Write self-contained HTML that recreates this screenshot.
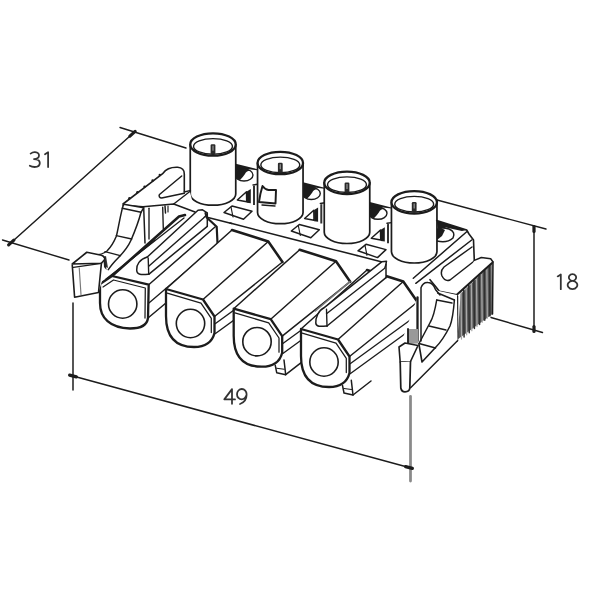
<!DOCTYPE html>
<html><head><meta charset="utf-8"><style>
html,body{margin:0;padding:0;background:#fff;width:600px;height:600px;overflow:hidden}
svg{display:block;filter:blur(0.3px)}
</style></head><body>
<svg width="600" height="600" viewBox="0 0 600 600" stroke-linecap="round" stroke-linejoin="round">
<path d="M120.00,127.50 L186.00,148.00" fill="none" stroke="#1c1c1c" stroke-width="1.38" />
<path d="M2.50,240.00 L69.00,260.00" fill="none" stroke="#1c1c1c" stroke-width="1.38" />
<path d="M11.25,242.50 L132.50,133.75" fill="none" stroke="#1c1c1c" stroke-width="1.49" />
<path d="M73.00,303.00 L73.00,390.00" fill="none" stroke="#1c1c1c" stroke-width="1.49" />
<path d="M410.50,396.50 L410.50,481.00" fill="none" stroke="#8a8a8a" stroke-width="2.76" />
<path d="M73.00,376.00 L409.00,467.50" fill="none" stroke="#1c1c1c" stroke-width="1.49" />
<path d="M437.00,200.00 L546.00,229.00" fill="none" stroke="#1c1c1c" stroke-width="1.38" />
<path d="M534.00,229.00 L534.00,329.00" fill="none" stroke="#1c1c1c" stroke-width="1.49" />
<path d="M491.00,317.50 L542.50,332.50" fill="none" stroke="#1c1c1c" stroke-width="1.38" />
<path d="M8.65,244.84 L13.85,240.16" fill="none" stroke="#1c1c1c" stroke-width="3.22" />
<path d="M129.90,136.09 L135.10,131.41" fill="none" stroke="#1c1c1c" stroke-width="3.22" />
<path d="M69.62,375.08 L76.38,376.92" fill="none" stroke="#1c1c1c" stroke-width="3.22" />
<path d="M405.62,466.58 L412.38,468.42" fill="none" stroke="#1c1c1c" stroke-width="3.22" />
<path d="M534.00,226.50 L534.00,231.50" fill="none" stroke="#1c1c1c" stroke-width="3.22" />
<path d="M534.00,326.50 L534.00,331.50" fill="none" stroke="#1c1c1c" stroke-width="3.22" />
<path d="M30.6,153.6 Q32.8,152 35.0,152.2 Q39.2,152.6 39.0,155.8 Q38.8,159 34.0,159.1 Q39.8,159.3 39.8,163 Q39.8,167 34.6,167 Q31.8,167 29.8,165.8 M45.0,154.2 L48.099999999999994,152.3 L48.099999999999994,167" fill="none" stroke="#333333" stroke-width="1.78" />
<path d="M232,403.8 L232,389.1 L224.3,399.40000000000003 L235,399.40000000000003 M246.6,394.3 A4.8,5.2 0 1 0 241.8,399.40000000000003 Q245,399.3 246.6,394.8 Q246.5,401.8 240,404.0" fill="none" stroke="#333333" stroke-width="1.78" />
<path d="M557.7,276.4 L560.8,274.5 L560.8,289.2 M572.5,280.8 A3.6,3.3 0 1 1 572.51,280.8 Z M572.5,280.8 A4.8,4.2 0 1 0 572.51,280.8 Z" fill="none" stroke="#333333" stroke-width="1.78" />
<path d="M235.80,163.70 L257.30,169.20 L257.30,170.30 L249.00,169.30 L240.00,170.00 L235.80,171.50 Z" fill="#1c1c1c" stroke="none"/>
<ellipse cx="244" cy="175.0" rx="9" ry="6" fill="#fff" stroke="#1c1c1c" stroke-width="1.4"/>
<path d="M243,169.0 Q235,169.5 235,175.0 Q236,179.5 240,180.0 Q243,177.0 245,174.0 Q246,171.0 250,170.5 Q247,168.8 243,169.0 Z" fill="#1c1c1c" stroke="#1c1c1c" stroke-width="0.00" />
<path d="M237.30,200.00 L246.50,191.70 L246.70,201.70 L237.30,200.00 Z" fill="#fff" stroke="#1c1c1c" stroke-width="1.49" />
<path d="M246.80,191.50 L250.80,189.00 L250.80,203.30 L246.80,202.70 Z" fill="#1c1c1c" stroke="none"/>
<path d="M253.00,186.00 L255.00,185.50 L255.00,205.00 L253.00,205.00 Z" fill="#333" stroke="none"/>
<path d="M253.00,185.00 L257.50,184.30" fill="none" stroke="#1c1c1c" stroke-width="1.38" />
<path d="M224.00,212.50 L232.00,206.00 L252.00,211.30 L243.50,219.30 Z" fill="#fff" stroke="#1c1c1c" stroke-width="1.49" />
<path d="M231.00,207.00 L233.00,217.00" fill="none" stroke="#1c1c1c" stroke-width="1.15" />
<path d="M303.10,182.20 L324.60,187.70 L324.60,188.80 L316.30,187.80 L307.30,188.50 L303.10,190.00 Z" fill="#1c1c1c" stroke="none"/>
<ellipse cx="311.3" cy="193.5" rx="9" ry="6" fill="#fff" stroke="#1c1c1c" stroke-width="1.4"/>
<path d="M310.3,187.5 Q302.3,188.0 302.3,193.5 Q303.3,198.0 307.3,198.5 Q310.3,195.5 312.3,192.5 Q313.3,189.5 317.3,189.0 Q314.3,187.3 310.3,187.5 Z" fill="#1c1c1c" stroke="#1c1c1c" stroke-width="0.00" />
<path d="M304.60,218.50 L313.80,210.20 L314.00,220.20 L304.60,218.50 Z" fill="#fff" stroke="#1c1c1c" stroke-width="1.49" />
<path d="M314.10,210.00 L318.10,207.50 L318.10,221.80 L314.10,221.20 Z" fill="#1c1c1c" stroke="none"/>
<path d="M320.30,204.50 L322.30,204.00 L322.30,223.50 L320.30,223.50 Z" fill="#333" stroke="none"/>
<path d="M320.30,203.50 L324.80,202.80" fill="none" stroke="#1c1c1c" stroke-width="1.38" />
<path d="M291.30,231.00 L299.30,224.50 L319.30,229.80 L310.80,237.80 Z" fill="#fff" stroke="#1c1c1c" stroke-width="1.49" />
<path d="M298.30,225.50 L300.30,235.50" fill="none" stroke="#1c1c1c" stroke-width="1.15" />
<path d="M369.80,202.00 L391.30,207.50 L391.30,208.60 L383.00,207.60 L374.00,208.30 L369.80,209.80 Z" fill="#1c1c1c" stroke="none"/>
<ellipse cx="378" cy="213.3" rx="9" ry="6" fill="#fff" stroke="#1c1c1c" stroke-width="1.4"/>
<path d="M377,207.3 Q369,207.8 369,213.3 Q370,217.8 374,218.3 Q377,215.3 379,212.3 Q380,209.3 384,208.8 Q381,207.10000000000002 377,207.3 Z" fill="#1c1c1c" stroke="#1c1c1c" stroke-width="0.00" />
<path d="M371.30,238.30 L380.50,230.00 L380.70,240.00 L371.30,238.30 Z" fill="#fff" stroke="#1c1c1c" stroke-width="1.49" />
<path d="M380.80,229.80 L384.80,227.30 L384.80,241.60 L380.80,241.00 Z" fill="#1c1c1c" stroke="none"/>
<path d="M387.00,224.30 L389.00,223.80 L389.00,243.30 L387.00,243.30 Z" fill="#333" stroke="none"/>
<path d="M387.00,223.30 L391.50,222.60" fill="none" stroke="#1c1c1c" stroke-width="1.38" />
<path d="M358.00,250.80 L366.00,244.30 L386.00,249.60 L377.50,257.60 Z" fill="#fff" stroke="#1c1c1c" stroke-width="1.49" />
<path d="M365.00,245.30 L367.00,255.30" fill="none" stroke="#1c1c1c" stroke-width="1.15" />
<path d="M437.00,221.50 L466.70,230.10 L464.20,232.30 L454.20,227.30 L440.20,227.30 L437.00,230.30 Z" fill="#1c1c1c" stroke="none"/>
<ellipse cx="445.2" cy="232.8" rx="9" ry="6" fill="#fff" stroke="#1c1c1c" stroke-width="1.4"/>
<path d="M444.2,226.8 Q436.2,227.3 436.2,232.8 Q437.2,237.3 441.2,237.8 Q444.2,234.8 446.2,231.8 Q447.2,228.8 451.2,228.3 Q448.2,226.60000000000002 444.2,226.8 Z" fill="#1c1c1c" stroke="#1c1c1c" stroke-width="0.00" />
<path d="M438.50,257.80 L447.70,249.50 L447.90,259.50 L438.50,257.80 Z" fill="#fff" stroke="#1c1c1c" stroke-width="1.49" />
<path d="M448.00,249.30 L452.00,246.80 L452.00,261.10 L448.00,260.50 Z" fill="#1c1c1c" stroke="none"/>
<path d="M454.20,243.80 L456.20,243.30 L456.20,262.80 L454.20,262.80 Z" fill="#333" stroke="none"/>
<path d="M454.20,242.80 L458.70,242.10" fill="none" stroke="#1c1c1c" stroke-width="1.38" />
<path d="M425.20,270.30 L433.20,263.80 L453.20,269.10 L444.70,277.10 Z" fill="#fff" stroke="#1c1c1c" stroke-width="1.49" />
<path d="M432.20,264.80 L434.20,274.80" fill="none" stroke="#1c1c1c" stroke-width="1.15" />
<path d="M436.70,220.50 L466.70,230.00 L469.00,234.00 L473.50,240.00 L474.30,260.40 L457.00,295.00 L439.30,291.30 L430.00,279.70 L414.50,273.60 Z" fill="#fff" stroke="none"/>
<path d="M436.70,220.50 L466.70,230.00 L462.00,231.00 L455.00,229.50 L446.00,227.50 L438.00,231.00 Z" fill="#1c1c1c" stroke="none"/>
<path d="M437,241 Q447,243.5 453,238 Q456,232 449,229 Q441,227 437,229.5" fill="#fff" stroke="#1c1c1c" stroke-width="1.49" />
<path d="M437.00,229.50 L441.00,228.00 L445.00,230.00 L442.00,236.00 L437.00,240.00 Z" fill="#1c1c1c" stroke="none"/>
<path d="M190.25,144.5 L190.25,194.0 A22.75,11.2 0 0 0 235.75,194.0 L235.75,144.5" fill="#fff" stroke="#1c1c1c" stroke-width="1.72" />
<ellipse cx="213" cy="144.5" rx="22.75" ry="11.2" fill="#fff" stroke="#1c1c1c" stroke-width="2.3"/>
<ellipse cx="213" cy="146.4" rx="19.45" ry="7.799999999999999" fill="#fff" stroke="#1c1c1c" stroke-width="1.4"/>
<rect x="210.6" y="144.2" width="4.8" height="10" rx="1.2" fill="#2a2a2a"/>
<rect x="212.3" y="145.7" width="1.4" height="5" fill="#888"/>
<path d="M257.55,163 L257.55,212.5 A22.75,11.2 0 0 0 303.05,212.5 L303.05,163" fill="#fff" stroke="#1c1c1c" stroke-width="1.72" />
<ellipse cx="280.3" cy="163" rx="22.75" ry="11.2" fill="#fff" stroke="#1c1c1c" stroke-width="2.3"/>
<ellipse cx="280.3" cy="164.9" rx="19.45" ry="7.799999999999999" fill="#fff" stroke="#1c1c1c" stroke-width="1.4"/>
<rect x="277.90000000000003" y="162.7" width="4.8" height="10" rx="1.2" fill="#2a2a2a"/>
<rect x="279.6" y="164.2" width="1.4" height="5" fill="#888"/>
<path d="M324.25,182.8 L324.25,232.3 A22.75,11.2 0 0 0 369.75,232.3 L369.75,182.8" fill="#fff" stroke="#1c1c1c" stroke-width="1.72" />
<ellipse cx="347" cy="182.8" rx="22.75" ry="11.2" fill="#fff" stroke="#1c1c1c" stroke-width="2.3"/>
<ellipse cx="347" cy="184.70000000000002" rx="19.45" ry="7.799999999999999" fill="#fff" stroke="#1c1c1c" stroke-width="1.4"/>
<rect x="344.6" y="182.5" width="4.8" height="10" rx="1.2" fill="#2a2a2a"/>
<rect x="346.3" y="184.0" width="1.4" height="5" fill="#888"/>
<path d="M391.45,202.3 L391.45,251.8 A22.75,11.2 0 0 0 436.95,251.8 L436.95,202.3" fill="#fff" stroke="#1c1c1c" stroke-width="1.72" />
<ellipse cx="414.2" cy="202.3" rx="22.75" ry="11.2" fill="#fff" stroke="#1c1c1c" stroke-width="2.3"/>
<ellipse cx="414.2" cy="204.20000000000002" rx="19.45" ry="7.799999999999999" fill="#fff" stroke="#1c1c1c" stroke-width="1.4"/>
<rect x="411.8" y="202.0" width="4.8" height="10" rx="1.2" fill="#2a2a2a"/>
<rect x="413.5" y="203.5" width="1.4" height="5" fill="#888"/>
<path d="M262.5,186 Q265,189.5 268.5,190 L276,190 L275.5,203.5 L259,202 Q260,194 262.5,186 Z" fill="#fff" stroke="#1c1c1c" stroke-width="1.95" />
<path d="M262.00,205.00 L275.00,206.00" fill="none" stroke="#1c1c1c" stroke-width="1.38" />
<path d="M205.00,216.70 L231.70,223.50" fill="none" stroke="#1c1c1c" stroke-width="1.49" />
<path d="M230.00,223.00 L290.00,238.50 L357.00,255.50" fill="none" stroke="#1c1c1c" stroke-width="1.49" />
<path d="M357.00,255.50 L384.00,262.50" fill="none" stroke="#1c1c1c" stroke-width="1.49" />
<path d="M123.00,204.00 L163.00,173.30 L168.30,168.00 L177.70,167.30 L184.30,172.00 L184.30,192.00 L189.70,190.70 L195.00,212.00 L182.00,216.00 L145.00,243.00 L142.00,212.00 L123.00,205.30 Z" fill="#fff" stroke="none"/>
<path d="M123,204 L163,173.3 C166,169 171,167 177.7,167.3 C182,167.5 184.5,170 184.3,174 L184.3,192" fill="none" stroke="#1c1c1c" stroke-width="1.61" />
<circle cx="129.40" cy="198.28" r="1.2" fill="#1c1c1c"/>
<circle cx="137.40" cy="192.14" r="1.2" fill="#1c1c1c"/>
<circle cx="144.60" cy="186.62" r="1.2" fill="#1c1c1c"/>
<circle cx="152.60" cy="180.47" r="1.2" fill="#1c1c1c"/>
<circle cx="159.80" cy="174.95" r="1.2" fill="#1c1c1c"/>
<path d="M181.7,176 L159.5,194.5 C158.5,196 159.5,198 161.7,198 L184.3,193.3" fill="none" stroke="#1c1c1c" stroke-width="1.49" />
<path d="M184.30,192.00 L189.70,190.70" fill="none" stroke="#1c1c1c" stroke-width="1.38" />
<path d="M123.00,205.30 L143.00,206.70 L173.70,204.00 L195.00,212.00" fill="none" stroke="#1c1c1c" stroke-width="1.49" />
<path d="M173.70,204.00 L190.50,191.00" fill="none" stroke="#1c1c1c" stroke-width="1.38" />
<path d="M162.70,207.30 L163.30,228.70" fill="none" stroke="#1c1c1c" stroke-width="1.38" />
<path d="M165.00,206.00 L165.50,213.00" fill="none" stroke="#1c1c1c" stroke-width="1.49" />
<path d="M168.00,206.00 L168.00,212.00" fill="none" stroke="#1c1c1c" stroke-width="1.15" />
<path d="M123.70,204.30 L143.70,207.70 L145.00,243.00 L108.30,269.70 L95.00,255.00 L104.30,253.70 L109.70,247.00 L116.30,236.30 L118.30,228.30 L122.30,208.30 Z" fill="#fff" stroke="none"/>
<path d="M123.70,204.30 L143.70,207.70 L141.00,212.30 L122.30,208.30 L123.70,204.30" fill="none" stroke="#1c1c1c" stroke-width="1.49" />
<path d="M122.3,208.3 C119,222 118,230 116.3,236.3 C114,242 111,247 107,251 C103,254 99,255 95,255" fill="none" stroke="#1c1c1c" stroke-width="1.49" />
<path d="M141,212.3 C138,224 135,231 131,240.3 C128,247 123,253 118.3,257.7 C114,262 110,267 108.3,269.7" fill="none" stroke="#1c1c1c" stroke-width="1.49" />
<path d="M116.30,235.70 L131.70,239.00" fill="none" stroke="#1c1c1c" stroke-width="1.38" />
<path d="M105.00,251.70 L120.30,255.70" fill="none" stroke="#1c1c1c" stroke-width="1.38" />
<path d="M143.70,207.70 L145.00,243.00" fill="none" stroke="#1c1c1c" stroke-width="1.49" />
<path d="M149.00,208.30 L149.00,239.00" fill="none" stroke="#1c1c1c" stroke-width="1.38" />
<path d="M103.00,257.00 L106.00,256.00 L108.00,268.00 L104.00,266.00 Z" fill="#333" stroke="none"/>
<path d="M101.00,284.00 L112.00,276.00 L179.00,216.50 L185.00,215.00 L215.00,227.00 L218.00,243.50 L216.00,262.00 L148.00,318.00 L148.70,284.70 Z" fill="#fff" stroke="none"/>
<path d="M101.00,284.00 L155.00,240.00" fill="none" stroke="#1c1c1c" stroke-width="1.38" />
<path d="M112.00,276.00 L179.00,216.50 L185.00,215.00" fill="none" stroke="#1c1c1c" stroke-width="2.53" />
<path d="M106.00,279.00 L184.00,218.00" fill="none" stroke="#1c1c1c" stroke-width="1.26" />
<path d="M148.70,284.70 L215.00,227.00" fill="none" stroke="#1c1c1c" stroke-width="1.49" />
<path d="M148.00,318.00 L215.00,262.00" fill="none" stroke="#1c1c1c" stroke-width="1.49" />
<path d="M149.20,302.70 L217.00,245.00" fill="none" stroke="#1c1c1c" stroke-width="1.38" />
<path d="M147.30,257.00 L198.00,210.30 L202.50,209.80 L207.30,212.80 L207.30,226.30 L148.70,274.30 L137.70,274.30 L136.70,268.00 L139.70,260.00 Z" fill="#fff" stroke="none"/>
<path d="M147.30,257.00 L198.00,210.30 L202.50,209.80 L207.30,212.80 L207.30,226.30" fill="none" stroke="#1c1c1c" stroke-width="1.49" />
<path d="M148.70,266.30 L203.30,218.30 L207.30,214.30" fill="none" stroke="#1c1c1c" stroke-width="1.38" />
<path d="M148.70,274.30 L207.30,226.30" fill="none" stroke="#1c1c1c" stroke-width="1.49" />
<path d="M147.3,257 C139.7,259 136.2,265 136.7,270 C136.7,275.3 141.7,274.8 148.7,274.3" fill="none" stroke="#1c1c1c" stroke-width="1.49" />
<path d="M148.20,258.00 L148.70,274.30" fill="none" stroke="#1c1c1c" stroke-width="1.38" />
<path d="M205.50,213.00 L206.70,217.50 L216.70,226.70 L217.50,243.30" fill="none" stroke="#1c1c1c" stroke-width="2.18" />
<path d="M166.00,289.00 L232.00,230.00 L268.30,241.50 L282.50,262.00 L282.50,292.00 L214.50,333.00 L214.50,316.50 L203.00,299.50 Z" fill="#fff" stroke="none"/>
<path d="M166.00,289.00 L232.00,230.00" fill="none" stroke="#1c1c1c" stroke-width="1.49" />
<path d="M203.00,299.50 L268.30,241.50" fill="none" stroke="#1c1c1c" stroke-width="1.49" />
<path d="M214.50,316.50 L282.50,262.00" fill="none" stroke="#1c1c1c" stroke-width="1.49" />
<path d="M215.50,323.50 L281.50,275.50" fill="none" stroke="#1c1c1c" stroke-width="1.38" />
<path d="M215.50,333.50 L281.50,285.50" fill="none" stroke="#1c1c1c" stroke-width="1.38" />
<path d="M232.00,230.00 L268.30,241.50 L282.50,262.00" fill="none" stroke="#1c1c1c" stroke-width="2.53" />
<path d="M233.70,308.70 L299.70,249.70 L336.00,261.20 L350.20,281.70 L350.20,311.70 L282.20,352.70 L282.20,336.20 L270.70,319.20 Z" fill="#fff" stroke="none"/>
<path d="M233.70,308.70 L299.70,249.70" fill="none" stroke="#1c1c1c" stroke-width="1.49" />
<path d="M270.70,319.20 L336.00,261.20" fill="none" stroke="#1c1c1c" stroke-width="1.49" />
<path d="M282.20,336.20 L350.20,281.70" fill="none" stroke="#1c1c1c" stroke-width="1.49" />
<path d="M283.20,343.20 L349.20,295.20" fill="none" stroke="#1c1c1c" stroke-width="1.38" />
<path d="M283.20,353.20 L349.20,305.20" fill="none" stroke="#1c1c1c" stroke-width="1.38" />
<path d="M299.70,249.70 L336.00,261.20 L350.20,281.70" fill="none" stroke="#1c1c1c" stroke-width="2.53" />
<path d="M301.00,329.00 L367.00,270.00 L403.30,281.50 L417.50,302.00 L417.50,332.00 L349.50,373.00 L349.50,356.50 L338.00,339.50 Z" fill="#fff" stroke="none"/>
<path d="M301.00,329.00 L367.00,270.00" fill="none" stroke="#1c1c1c" stroke-width="1.49" />
<path d="M338.00,339.50 L403.30,281.50" fill="none" stroke="#1c1c1c" stroke-width="1.49" />
<path d="M349.50,356.50 L417.50,302.00" fill="none" stroke="#1c1c1c" stroke-width="1.49" />
<path d="M350.50,363.50 L416.50,315.50" fill="none" stroke="#1c1c1c" stroke-width="1.38" />
<path d="M350.50,373.50 L416.50,325.50" fill="none" stroke="#1c1c1c" stroke-width="1.38" />
<path d="M367.00,270.00 L403.30,281.50 L417.50,302.00" fill="none" stroke="#1c1c1c" stroke-width="2.53" />
<path d="M323.30,308.30 L382.00,261.70 L386.50,261.20 L386.00,264.20 L386.00,277.70 L327.00,326.00 L316.80,326.00 L315.80,321.00 L318.80,311.30 Z" fill="#fff" stroke="none"/>
<path d="M323.30,308.30 L382.00,261.70 L386.50,261.20 L386.00,264.20 L386.00,277.70" fill="none" stroke="#1c1c1c" stroke-width="1.49" />
<path d="M326.50,313.70 L384.70,268.30 L386.00,264.30" fill="none" stroke="#1c1c1c" stroke-width="1.38" />
<path d="M327.00,326.00 L386.00,277.70" fill="none" stroke="#1c1c1c" stroke-width="1.49" />
<path d="M323.3,308.3 C318.8,310.3 315.3,318 315.8,323 C315.8,327 320.8,326.5 327,326" fill="none" stroke="#1c1c1c" stroke-width="1.49" />
<path d="M326.50,309.30 L327.00,326.00" fill="none" stroke="#1c1c1c" stroke-width="1.38" />
<path d="M315.30,311.00 L350.00,281.70" fill="none" stroke="#777" stroke-width="1.61" />
<path d="M100,284 L112,276 L148.7,284.7 L148,318 C147,326 140,328.5 130,328.5 C110,328 100,318 100,303 Z" fill="#fff" stroke="#1c1c1c" stroke-width="2.30" />
<path d="M103.00,287.00 L113.50,280.00 L145.30,288.00 L145.00,318.00" fill="none" stroke="#1c1c1c" stroke-width="1.26" />
<circle cx="122.7" cy="304" r="14.2" fill="#fff" stroke="#1c1c1c" stroke-width="1.6"/>
<path d="M166,289 L203,299.5 L214.5,316.5 L214.5,333 C211.5,345 202,347 194,347 C172,347 166,332 166,316 Z" fill="#fff" stroke="#1c1c1c" stroke-width="2.30" />
<path d="M167.20,293.20 L201.00,303.20 L211.30,318.30 L211.30,332.50" fill="none" stroke="#1c1c1c" stroke-width="1.26" />
<circle cx="190.5" cy="323.5" r="14.2" fill="#fff" stroke="#1c1c1c" stroke-width="1.6"/>
<path d="M275.20,365.20 L283.70,358.70 L303.70,348.70 L303.70,360.70 L285.70,374.70 L276.70,372.70 Z" fill="#fff" stroke="none"/>
<path d="M275.20,365.20 L276.70,372.70 L285.70,374.70 L284.00,360.00" fill="none" stroke="#1c1c1c" stroke-width="1.49" />
<path d="M285.70,374.70 L303.70,360.70" fill="none" stroke="#1c1c1c" stroke-width="1.49" />
<path d="M276.70,368.20 L284.20,369.20" fill="none" stroke="#1c1c1c" stroke-width="1.15" />
<path d="M233.7,308.7 L270.7,319.2 L282.2,336.2 L282.2,352.7 C279.2,364.7 269.7,366.7 261.7,366.7 C239.7,366.7 233.7,351.7 233.7,335.7 Z" fill="#fff" stroke="#1c1c1c" stroke-width="2.30" />
<path d="M234.90,312.90 L268.70,322.90 L279.00,338.00 L279.00,352.20" fill="none" stroke="#1c1c1c" stroke-width="1.26" />
<circle cx="257" cy="341.7" r="14.2" fill="#fff" stroke="#1c1c1c" stroke-width="1.6"/>
<path d="M342.50,385.50 L351.00,379.00 L371.00,369.00 L371.00,381.00 L353.00,395.00 L344.00,393.00 Z" fill="#fff" stroke="none"/>
<path d="M342.50,385.50 L344.00,393.00 L353.00,395.00 L351.30,380.30" fill="none" stroke="#1c1c1c" stroke-width="1.49" />
<path d="M353.00,395.00 L371.00,381.00" fill="none" stroke="#1c1c1c" stroke-width="1.49" />
<path d="M344.00,388.50 L351.50,389.50" fill="none" stroke="#1c1c1c" stroke-width="1.15" />
<path d="M301,329 L338,339.5 L349.5,356.5 L349.5,373 C346.5,385 337,387 329,387 C307,387 301,372 301,356 Z" fill="#fff" stroke="#1c1c1c" stroke-width="2.30" />
<path d="M302.20,333.20 L336.00,343.20 L346.30,358.30 L346.30,372.50" fill="none" stroke="#1c1c1c" stroke-width="1.26" />
<circle cx="324" cy="362" r="14.2" fill="#fff" stroke="#1c1c1c" stroke-width="1.6"/>
<path d="M436.70,258.00 L474.30,240.00 L474.30,260.40 L457.00,295.00 L439.30,291.30 L430.00,279.70 L413.30,278.30 Z" fill="#fff" stroke="none"/>
<path d="M436.70,220.50 L466.70,230.00 L469.00,234.00 L473.50,240.00 L474.30,260.40" fill="none" stroke="#1c1c1c" stroke-width="1.61" />
<path d="M413.30,278.30 L466.70,231.70" fill="none" stroke="#1c1c1c" stroke-width="1.49" />
<path d="M415.80,283.30 L471.70,240.00" fill="none" stroke="#1c1c1c" stroke-width="1.49" />
<path d="M472,247 L444,267 Q440,271 442,276 Q445,282 450,280 L474.3,261" fill="none" stroke="#1c1c1c" stroke-width="1.49" />
<path d="M430.00,279.70 L435.80,286.70 L439.30,291.30 L456.80,294.80" fill="none" stroke="#1c1c1c" stroke-width="1.61" />
<path d="M474.30,260.40 L490.70,258.70 L493.00,262.00 L492.50,314.00 L457.50,340.00 L457.00,295.00 Z" fill="#fff" stroke="none"/>
<path d="M460.60,294.00 L492.50,263.00 L492.50,314.00 L457.50,339.50 Z" fill="#5a5a5a" stroke="none"/>
<path d="M461.00,292.00 L461.50,339.00" fill="none" stroke="#a8a8a8" stroke-width="1.26" />
<path d="M466.17,287.25 L466.67,334.83" fill="none" stroke="#a8a8a8" stroke-width="1.26" />
<path d="M471.33,282.50 L471.83,330.67" fill="none" stroke="#a8a8a8" stroke-width="1.26" />
<path d="M476.50,277.75 L477.00,326.50" fill="none" stroke="#a8a8a8" stroke-width="1.26" />
<path d="M481.67,273.00 L482.17,322.33" fill="none" stroke="#a8a8a8" stroke-width="1.26" />
<path d="M486.83,268.25 L487.33,318.17" fill="none" stroke="#a8a8a8" stroke-width="1.26" />
<path d="M492.00,263.50 L492.50,314.00" fill="none" stroke="#a8a8a8" stroke-width="1.26" />
<path d="M463.58,289.62 L464.08,336.92" fill="none" stroke="#303030" stroke-width="1.49" />
<path d="M468.75,284.88 L469.25,332.75" fill="none" stroke="#303030" stroke-width="1.49" />
<path d="M473.92,280.12 L474.42,328.58" fill="none" stroke="#303030" stroke-width="1.49" />
<path d="M479.08,275.38 L479.58,324.42" fill="none" stroke="#303030" stroke-width="1.49" />
<path d="M484.25,270.62 L484.75,320.25" fill="none" stroke="#303030" stroke-width="1.49" />
<path d="M489.42,265.88 L489.92,316.08" fill="none" stroke="#303030" stroke-width="1.49" />
<path d="M474.30,260.40 L481.30,257.50 L490.70,258.70 L493.00,262.00" fill="none" stroke="#1c1c1c" stroke-width="1.49" />
<path d="M456.80,294.80 L492.00,263.00" fill="none" stroke="#1c1c1c" stroke-width="2.07" />
<path d="M493.00,262.00 L492.50,314.00" fill="none" stroke="#1c1c1c" stroke-width="1.49" />
<path d="M457.50,296.00 L457.50,340.80" fill="none" stroke="#1c1c1c" stroke-width="1.49" />
<path d="M399.00,349.00 L421.00,287.00 L457.00,295.00 L457.50,340.80 L410.60,387.70 L402.30,390.80 Z" fill="#fff" stroke="none"/>
<path d="M410.60,387.70 L457.50,340.80" fill="none" stroke="#1c1c1c" stroke-width="1.49" />
<path d="M417.50,297.50 L417.50,341.00" fill="none" stroke="#1c1c1c" stroke-width="2.30" />
<path d="M408.00,329.00 L418.00,329.00 L418.00,343.50 L408.00,344.00 Z" fill="#999" stroke="none"/>
<path d="M408.00,329.00 L408.00,344.00" fill="none" stroke="#1c1c1c" stroke-width="1.84" />
<path d="M421,341 L421,287.7 Q423,282 428,282.5 Q433,282.5 435.6,289.8 L440,295" fill="#fff" stroke="#1c1c1c" stroke-width="1.49" />
<path d="M437.70,293.00 L454.40,300.00" fill="none" stroke="#1c1c1c" stroke-width="1.49" />
<path d="M436.70,300.00 L452.00,303.00" fill="none" stroke="#1c1c1c" stroke-width="1.38" />
<path d="M454.4,300 Q453,318 450,326 Q443,340 435.5,347.5" fill="none" stroke="#1c1c1c" stroke-width="1.49" />
<path d="M436.7,300 Q434,316 430.4,322 Q424,334 419,343.5" fill="none" stroke="#1c1c1c" stroke-width="1.49" />
<path d="M429.00,326.00 L446.00,330.00" fill="none" stroke="#1c1c1c" stroke-width="1.38" />
<path d="M419.00,343.50 L435.50,348.00" fill="none" stroke="#1c1c1c" stroke-width="1.49" />
<path d="M399.00,347.00 L405.00,343.00 L418.00,345.50 L410.50,361.50 L400.20,362.00 L399.00,347.00 Z" fill="#fff" stroke="#1c1c1c" stroke-width="1.61" />
<path d="M400.2,362 L400.8,388 Q401.5,391.8 405,391.8 Q409.5,391.8 409.8,388 L410.5,361.5" fill="#fff" stroke="#1c1c1c" stroke-width="1.72" />
<path d="M419.00,344.50 L422.00,362.00 L435.00,348.00" fill="none" stroke="#1c1c1c" stroke-width="1.61" />
<path d="M72.25,264.00 L86.80,252.25 L101.40,255.20 L104.90,259.25 L105.50,269.20 L98.50,292.50 L74.60,297.20 Z" fill="#fff" stroke="none"/>
<path d="M72.25,264 L86.8,252.25 L101.4,255.2 Q105,256.5 104.9,259.25 L101.4,263.3 L72.25,264 Z" fill="none" stroke="#1c1c1c" stroke-width="1.61" />
<path d="M73.40,267.40 L101.40,263.30" fill="none" stroke="#1c1c1c" stroke-width="1.26" />
<path d="M72.25,265.00 L74.60,297.20 L98.50,292.50 L101.40,263.30" fill="none" stroke="#1c1c1c" stroke-width="1.61" />
<path d="M79.25,268.00 L81.00,294.80" fill="none" stroke="#777" stroke-width="1.15" />
<path d="M103.50,260.00 L105.50,259.50 L106.50,270.00 L104.00,267.00 Z" fill="#222" stroke="none"/>
</svg>
</body></html>
